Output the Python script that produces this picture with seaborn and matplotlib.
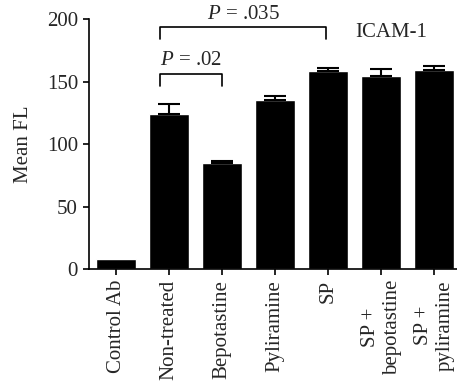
import matplotlib
matplotlib.use("Agg")
import matplotlib.pyplot as plt
import numpy as np
import pandas as pd
import seaborn as sns

# Data
groups = ["Control Ab", "Non-treated", "Bepotastine", "Pyliramine", "SP",
          "SP +\nbepotastine", "SP +\npyliramine"]
mean_fl = [8, 124, 84.5, 135.5, 158.5, 154.5, 159]
sem_fl = [0, 8, 2, 3, 2.5, 5.5, 3.5]

df = pd.DataFrame({"group": groups, "mean": mean_fl})

sns.set_style("ticks")
plt.rcParams["font.family"] = ["Liberation Serif", "DejaVu Serif"]
plt.rcParams["mathtext.fontset"] = "custom"
plt.rcParams["mathtext.it"] = "Liberation Serif:italic"
plt.rcParams["mathtext.rm"] = "Liberation Serif"

FS = 15

fig = plt.figure(figsize=(4.57, 3.91), dpi=100)
ax = fig.add_axes([0.195, 0.312, 0.805, 0.639])

sns.barplot(data=df, x="group", y="mean", color="black", width=0.75,
            saturation=1, ax=ax, errorbar=None)

# one-sided error bars
x = np.arange(len(groups))
err = np.array([np.zeros(len(sem_fl)), sem_fl])
ax.errorbar(x[1:], np.array(mean_fl)[1:], yerr=err[:, 1:], fmt="none",
            ecolor="black", elinewidth=1.5, capsize=8, capthick=1.5)

ax.set_xlim(-0.51, 6.43)
ax.set_ylim(0, 200)
ax.set_yticks([0, 50, 100, 150, 200])
ax.set_xticks(x)
ax.set_xticklabels(groups, rotation=90, ha="center", va="top",
                   multialignment="center")
ax.set_xlabel("")
ax.set_ylabel("Mean FL", fontsize=FS, labelpad=10)
ax.tick_params(axis="both", labelsize=FS, width=1.2, length=4.5,
               direction="out", color="black")
for side in ["top", "right"]:
    ax.spines[side].set_visible(False)
for side in ["left", "bottom"]:
    ax.spines[side].set_linewidth(1.2)
    ax.spines[side].set_color("black")

# significance brackets
def bracket(x0, x1, y_top, y_bot, y_text, label):
    ax.plot([x0, x0, x1, x1], [y_bot, y_top, y_top, y_bot], color="black",
            lw=1.2, clip_on=False)
    ax.text((x0 + x1) / 2, y_text, label, ha="center", va="center",
            fontsize=FS, clip_on=False)

bracket(0.83, 2.0, 156, 146.5, 167, r"$P$ = .02")
bracket(0.83, 3.96, 194, 184.5, 204, r"$P$ = .035")

ax.text(5.19, 189, "ICAM-1", ha="center", va="center", fontsize=FS)

fig.savefig("out.png", dpi=100)
